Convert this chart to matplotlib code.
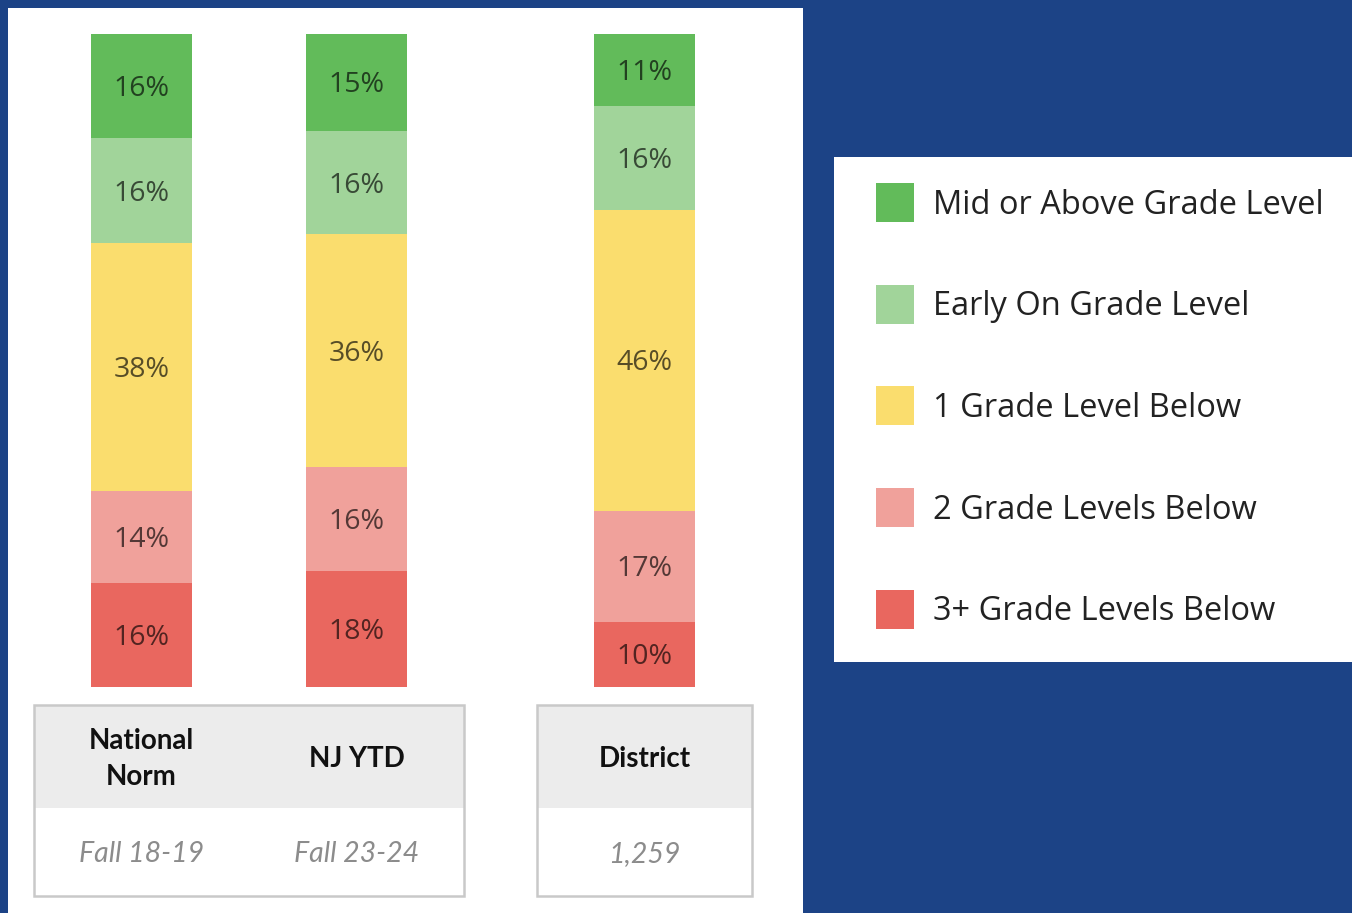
import numpy as np
import matplotlib.pyplot as plt
from matplotlib.patches import Rectangle
from matplotlib.colors import to_rgb

# data
groups = ["National\nNorm", "NJ YTD", "District"]
subtitles = ["Fall 18-19", "Fall 23-24", "1,259"]
levels = ["Mid or Above Grade Level", "Early On Grade Level", "1 Grade Level Below",
          "2 Grade Levels Below", "3+ Grade Levels Below"]
national = [16, 16, 38, 14, 16]
nj_ytd = [15, 16, 36, 16, 18]
district = [11, 16, 46, 17, 10]

colors = ["#62bb5a", "#a1d49a", "#fadd6e", "#f0a19b", "#e9675f"]
blue = "#1c4386"
W, H = 1352, 913

fig = plt.figure(figsize=(W / 100, H / 100), dpi=100, facecolor=blue)

# overlay in pixel coords
bg = fig.add_axes([0, 0, 1, 1])
bg.set_xlim(0, W)
bg.set_ylim(H, 0)
bg.axis("off")
bg.add_patch(Rectangle((8, 8), 795, 910, facecolor="white", edgecolor="none"))

# table boxes
for x0, x1 in [(34, 464), (537, 752)]:
    bg.add_patch(Rectangle((x0, 705), x1 - x0, 103, facecolor="#ececec", edgecolor="none"))
    bg.add_patch(Rectangle((x0, 705), x1 - x0, 191, facecolor="none", edgecolor="#c9c9c9", lw=1.8))

xc = [141.5, 356.5, 644.5]
for x, g, s in zip(xc, groups, subtitles):
    bg.text(x, 759, g, ha="center", va="center", fontsize=20, fontweight="bold",
            family="Lato", color="#111111", linespacing=1.5)
    bg.text(x, 854, s, ha="center", va="center", fontsize=20.5, fontstyle="italic",
            family="Lato", color="#8c8c8c")

# legend box
bg.add_patch(Rectangle((834, 157), 530, 505, facecolor="white", edgecolor="none"))
for i, (lab, c) in enumerate(zip(levels, colors)):
    y = 202 + i * 101.7
    bg.add_patch(Rectangle((876, y - 19), 38, 39, facecolor=c, edgecolor="none"))
    bg.text(933, y + 3, lab, ha="left", va="center", fontsize=23.5,
            family="Open Sans", color="#222222")

# stacked bars
ax = fig.add_axes([8 / W, 1 - 687 / H, 795 / W, 653 / H])
ax.patch.set_alpha(0)
ax.set_xlim(8, 803)
ax.set_ylim(0, 100)
ax.axis("off")

for x, vals in zip(xc, [national, nj_ytd, district]):
    vals = np.array(vals, dtype=float)
    heights = vals / vals.sum() * 100
    bottom = 100.0
    for v, h, c in zip(vals, heights, colors):
        bottom -= h
        ax.bar(x, h, bottom=bottom, width=101, color=c, edgecolor="none")
        tc = tuple(np.array(to_rgb(c)) * 0.35)
        ax.text(x, bottom + h / 2 - 0.45, f"{int(v)}%", ha="center", va="center",
                fontsize=20.5, family="Open Sans", color=tc)

fig.savefig("out.png", dpi=100, facecolor=blue)
